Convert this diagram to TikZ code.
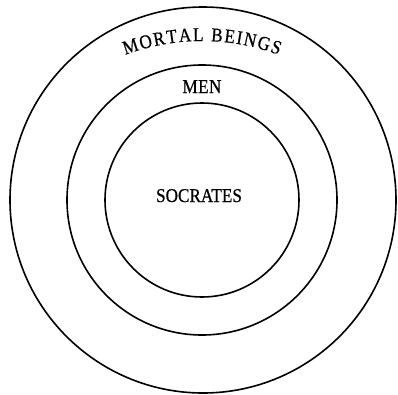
\documentclass[tikz,border=0pt]{standalone}
\usepackage{fontspec}
\setmainfont{Liberation Serif}[FakeStretch=0.88, FakeBold=0.6]
\usetikzlibrary{decorations.text}

\begin{document}
\begin{tikzpicture}[x=1pt, y=1pt,
    ring/.style={circle, draw, line width=1.6pt, inner sep=0pt},
    setname/.style={anchor=base, inner sep=0pt, font=\fontsize{19.5}{20}\selectfont}
]
\useasboundingbox (-202,-194) rectangle (196,200);
\coordinate (c) at (0,0);

% Three nested classes
\node[ring, minimum size=386] (mortal) at (1,0) {};
\node[ring, minimum size=270] (men) at (c) {};
\node[ring, minimum size=194] (socrates) at (c) {};

% Names of the classes
\node[setname] (socratesname) at (-3,-2) {SOCRATES};
\node[setname] (menname) at (0,107) {\addfontfeature{LetterSpace=2}MEN};
\path[decorate, decoration={text along path, text align={fit to path},
    text={|\fontsize{19.5}{20}\selectfont|MORTAL BEINGS}}]
    (0,-60) ++(110.5:219) arc[start angle=110.5, end angle=69.5, radius=219];
\end{tikzpicture}
\end{document}
